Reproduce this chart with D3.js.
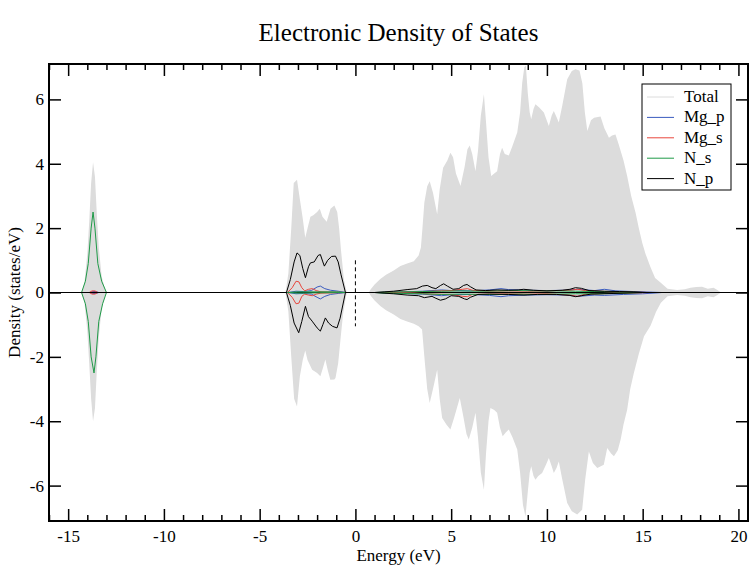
<!DOCTYPE html>
<html>
<head>
<meta charset="utf-8">
<script src="https://cdn.jsdelivr.net/npm/d3@7"></script>
<style>
  body { margin: 0; background: #fff; }
  text { font-family: "Liberation Serif", "DejaVu Serif", serif; }
</style>
</head>
<body>
<div id="chart"></div>
<script>
// total DOS, spin up / spin down  [energy, states/eV]
const totalUp = [
  [-14.3,0],[-14.15,0.3],[-14.0,1.2],[-13.9,2.2],[-13.8,3.4],[-13.7,4.05],[-13.6,3.6],[-13.5,2.4],[-13.4,1.4],[-13.25,0.5],[-13.05,0.05],[-12.9,0],
  [-3.65,0],[-3.5,0.6],[-3.35,2.0],[-3.22,3.4],[-3.05,3.5],[-2.9,2.9],[-2.75,2.3],[-2.62,1.7],[-2.5,2.0],[-2.35,2.35],[-2.2,2.4],[-2.0,2.5],[-1.86,2.6],[-1.72,2.35],[-1.5,2.2],[-1.3,2.6],[-1.1,2.7],[-0.95,2.5],[-0.85,2.0],[-0.75,1.3],[-0.6,0.4],[-0.45,0],
  [0.7,0],[0.8,0.1],[1.0,0.25],[1.3,0.42],[1.6,0.55],[2.0,0.68],[2.35,0.82],[2.7,0.9],[3.05,0.97],[3.3,1.15],[3.42,1.4],[3.5,2.0],[3.6,2.8],[3.75,3.3],[3.88,3.46],[4.05,3.1],[4.27,2.43],[4.4,3.2],[4.58,3.88],[4.8,4.1],[4.96,4.34],[5.1,4.2],[5.25,3.7],[5.49,3.31],[5.7,3.9],[5.85,4.45],[5.97,4.57],[6.1,4.3],[6.27,3.77],[6.4,4.4],[6.55,5.5],[6.71,6.16],[6.82,5.3],[6.95,4.2],[7.09,3.62],[7.25,3.7],[7.4,3.77],[7.55,4.3],[7.66,4.5],[7.8,4.3],[8.01,4.26],[8.2,4.55],[8.45,4.97],[8.6,5.6],[8.71,6.52],[8.82,7.0],[8.9,7.05],[9.0,6.2],[9.1,5.6],[9.18,5.38],[9.3,5.7],[9.4,5.85],[9.6,5.75],[9.84,5.59],[10.1,5.17],[10.25,5.5],[10.36,5.64],[10.5,5.45],[10.62,5.28],[10.8,5.8],[11.06,6.63],[11.3,6.88],[11.49,6.94],[11.7,6.9],[11.85,6.5],[11.98,5.6],[12.11,5.02],[12.3,5.35],[12.46,5.43],[12.8,5.47],[13.0,5.1],[13.24,4.81],[13.4,4.88],[13.58,4.91],[13.75,4.6],[14.0,4.1],[14.19,3.62],[14.4,3.0],[14.63,2.48],[14.8,2.0],[14.98,1.54],[15.15,1.2],[15.4,0.8],[15.65,0.45],[15.93,0.31],[16.3,0.12],[16.8,0.08],[17.2,0.1],[17.5,0.15],[17.8,0.17],[18.1,0.18],[18.4,0.12],[18.7,0.15],[18.9,0.08],[19.1,0]
];
const totalDn = [
  [-14.3,0],[-14.15,-0.3],[-14.0,-1.2],[-13.9,-2.2],[-13.8,-3.3],[-13.7,-4.0],[-13.6,-3.6],[-13.5,-2.4],[-13.4,-1.4],[-13.25,-0.5],[-13.05,-0.05],[-12.9,0],
  [-3.65,0],[-3.5,-0.6],[-3.35,-2.0],[-3.2,-3.3],[-3.05,-3.54],[-2.9,-2.6],[-2.75,-2.1],[-2.62,-1.8],[-2.5,-2.1],[-2.26,-2.4],[-2.0,-2.5],[-1.83,-2.6],[-1.7,-2.35],[-1.57,-2.08],[-1.45,-2.4],[-1.31,-2.71],[-1.1,-2.7],[-1.04,-2.66],[-0.9,-2.2],[-0.78,-1.46],[-0.65,-0.7],[-0.52,-0.22],[-0.45,0],
  [0.7,0],[0.8,-0.1],[1.0,-0.25],[1.3,-0.42],[1.6,-0.55],[2.0,-0.68],[2.35,-0.82],[2.7,-0.9],[3.05,-0.97],[3.3,-1.05],[3.48,-1.15],[3.6,-2.0],[3.75,-3.0],[3.88,-3.43],[4.05,-3.0],[4.27,-2.4],[4.4,-3.3],[4.53,-3.9],[4.75,-4.1],[4.96,-4.26],[5.15,-3.9],[5.45,-3.28],[5.65,-3.9],[5.8,-4.4],[5.92,-4.57],[6.1,-4.2],[6.27,-3.74],[6.4,-4.5],[6.55,-5.6],[6.71,-6.13],[6.82,-5.0],[6.95,-4.0],[7.05,-3.59],[7.25,-3.65],[7.4,-3.74],[7.55,-4.2],[7.69,-4.47],[7.85,-4.35],[8.01,-4.26],[8.2,-4.5],[8.45,-4.88],[8.6,-5.6],[8.75,-6.6],[8.88,-6.96],[9.0,-6.2],[9.1,-5.6],[9.18,-5.4],[9.3,-5.7],[9.4,-5.82],[9.55,-5.7],[9.75,-5.61],[9.95,-5.35],[10.1,-5.14],[10.25,-5.4],[10.36,-5.61],[10.5,-5.45],[10.62,-5.25],[10.8,-5.8],[11.06,-6.54],[11.3,-6.8],[11.58,-6.9],[11.84,-6.75],[12.0,-5.8],[12.19,-4.94],[12.4,-5.3],[12.63,-5.45],[12.97,-5.35],[13.15,-4.83],[13.35,-5.0],[13.5,-5.09],[13.7,-4.9],[13.85,-4.57],[14.0,-4.1],[14.19,-3.64],[14.35,-3.0],[14.54,-2.5],[14.8,-1.9],[15.07,-1.36],[15.41,-1.03],[15.7,-0.6],[15.95,-0.32],[16.3,-0.12],[16.8,-0.08],[17.2,-0.1],[17.5,-0.15],[17.8,-0.17],[18.1,-0.18],[18.4,-0.12],[18.7,-0.15],[18.9,-0.08],[19.1,0]
];

// partial DOS
const mgpUp = [
  [-13.85,0],[-13.7,0.03],[-13.55,0.03],[-13.4,0],
  [-3.5,0],[-3.1,0.04],[-2.7,0.03],[-2.3,0.06],[-2.0,0.17],[-1.83,0.2],[-1.6,0.12],[-1.3,0.07],[-0.9,0.04],[-0.5,0],
  [1.2,0],[2.5,0.02],[3.5,0.04],[4.5,0.08],[5.0,0.06],[6.0,0.05],[7.0,0.08],[7.6,0.12],[8.0,0.09],[9.0,0.07],[10.0,0.06],[11.0,0.07],[11.6,0.1],[12.5,0.06],[13.0,0.1],[13.6,0.05],[14.5,0.03],[15.5,0.01],[16.0,0]
];
const mgpDn = [
  [-13.85,0],[-13.7,-0.03],[-13.55,-0.03],[-13.4,0],
  [-3.5,0],[-3.1,-0.04],[-2.7,-0.03],[-2.3,-0.05],[-2.0,-0.15],[-1.83,-0.2],[-1.6,-0.12],[-1.3,-0.06],[-0.9,-0.03],[-0.5,0],
  [1.2,0],[2.5,-0.03],[3.5,-0.05],[4.5,-0.1],[5.0,-0.07],[6.0,-0.06],[7.0,-0.09],[7.6,-0.13],[8.0,-0.1],[9.0,-0.08],[10.0,-0.07],[11.0,-0.08],[11.6,-0.12],[12.5,-0.08],[13.0,-0.09],[14.0,-0.06],[15.0,-0.04],[15.8,-0.01],[16.0,0]
];
const mgsUp = [
  [-13.9,0],[-13.75,0.05],[-13.6,0.05],[-13.45,0],
  [-3.55,0],[-3.3,0.15],[-3.1,0.35],[-2.95,0.33],[-2.8,0.15],[-2.65,0.05],[-2.45,0.1],[-2.25,0.12],[-2.05,0.06],[-1.8,0.02],[-1.0,0.01],[-0.5,0],
  [1.5,0],[3.0,0.02],[4.0,0.04],[5.0,0.06],[5.6,0.1],[5.85,0.12],[6.1,0.07],[7.0,0.04],[8.0,0.05],[9.0,0.04],[10.0,0.05],[11.2,0.07],[11.6,0.1],[12.0,0.06],[13.0,0.03],[14.5,0.01],[15.5,0]
];
const mgsDn = [
  [-13.9,0],[-13.75,-0.05],[-13.6,-0.05],[-13.45,0],
  [-3.55,0],[-3.3,-0.15],[-3.1,-0.35],[-2.95,-0.33],[-2.8,-0.12],[-2.65,-0.05],[-2.45,-0.08],[-2.25,-0.1],[-2.05,-0.05],[-1.8,-0.02],[-0.5,0],
  [1.5,0],[3.0,-0.02],[4.0,-0.05],[5.0,-0.06],[5.6,-0.12],[5.85,-0.13],[6.1,-0.06],[7.0,-0.05],[8.0,-0.04],[9.0,-0.05],[10.0,-0.04],[11.2,-0.08],[11.6,-0.12],[12.0,-0.05],[13.0,-0.03],[15.5,0]
];
const nsUp = [
  [-14.3,0],[-14.1,0.35],[-13.95,0.9],[-13.8,2.0],[-13.7,2.5],[-13.6,2.0],[-13.45,0.9],[-13.25,0.35],[-13.0,0],
  [-3.55,0],[-3.0,0.02],[-2.0,0.02],[-1.0,0.02],[-0.5,0],
  [1.0,0],[1.5,0.01],[2.5,0.02],[3.5,0.03],[4.5,0.04],[5.5,0.05],[6.5,0.04],[7.5,0.05],[8.5,0.06],[9.5,0.05],[10.5,0.05],[11.5,0.04],[12.5,0.03],[13.5,0.02],[14.5,0.01],[15.0,0]
];
const nsDn = [
  [-14.3,0],[-14.1,-0.35],[-13.95,-0.9],[-13.8,-2.0],[-13.65,-2.5],[-13.55,-2.0],[-13.4,-0.9],[-13.2,-0.35],[-13.0,0],
  [-3.55,0],[-3.0,-0.02],[-2.0,-0.01],[-0.5,0],
  [1.0,0],[1.5,-0.02],[2.5,-0.03],[3.5,-0.04],[4.5,-0.06],[5.5,-0.05],[6.5,-0.06],[7.5,-0.06],[8.5,-0.05],[9.5,-0.06],[10.5,-0.05],[11.5,-0.04],[12.5,-0.04],[13.5,-0.03],[14.5,-0.01],[15.0,0]
];
const npUp = [
  [-16,0],[-3.6,0],[-3.4,0.4],[-3.2,0.95],[-3.05,1.23],[-2.9,1.15],[-2.75,0.75],[-2.61,0.46],[-2.45,0.8],[-2.35,0.92],[-2.15,0.95],[-1.95,1.15],[-1.83,1.18],[-1.7,0.95],[-1.62,0.82],[-1.45,1.0],[-1.25,1.12],[-1.04,1.13],[-0.9,0.95],[-0.75,0.55],[-0.52,0],
  [1.0,0],[1.5,0.02],[2.0,0.04],[2.7,0.09],[3.2,0.12],[3.5,0.2],[3.75,0.22],[4.0,0.15],[4.2,0.12],[4.45,0.22],[4.61,0.27],[4.8,0.2],[5.1,0.1],[5.4,0.12],[5.65,0.22],[5.83,0.25],[6.0,0.18],[6.3,0.08],[6.8,0.06],[7.4,0.08],[8.0,0.07],[8.5,0.08],[8.79,0.1],[9.3,0.07],[10.0,0.05],[10.8,0.07],[11.2,0.1],[11.49,0.15],[11.8,0.13],[12.2,0.06],[13.0,0.04],[13.8,0.03],[14.5,0.02],[15.2,0],[20.5,0]
];
const npDn = [
  [-16,0],[-3.6,0],[-3.4,-0.4],[-3.2,-0.95],[-2.96,-1.25],[-2.8,-0.9],[-2.61,-0.43],[-2.45,-0.75],[-2.26,-0.89],[-2.0,-1.1],[-1.83,-1.2],[-1.7,-1.0],[-1.57,-0.79],[-1.4,-0.95],[-1.2,-1.05],[-0.96,-1.1],[-0.8,-0.8],[-0.52,0],
  [1.0,0],[2.0,-0.04],[2.7,-0.08],[3.3,-0.1],[3.6,-0.16],[4.0,-0.12],[4.2,-0.18],[4.44,-0.24],[4.7,-0.2],[5.0,-0.1],[5.4,-0.12],[5.7,-0.2],[5.83,-0.22],[6.0,-0.15],[6.4,-0.06],[7.0,-0.05],[8.0,-0.06],[8.8,-0.08],[9.5,-0.06],[10.5,-0.06],[11.2,-0.09],[11.5,-0.13],[11.8,-0.1],[12.3,-0.05],[13.5,-0.03],[15.0,0],[20.5,0]
];

const seriesNames = ["Total", "Mg_p", "Mg_s", "N_s", "N_p"];
const seriesColors = ["#dcdcdc", "#3a5bbf", "#e8463c", "#1f9a48", "#000000"];
const xTicks = [-15, -10, -5, 0, 5, 10, 15, 20];
const yTicks = [-6, -4, -2, 0, 2, 4, 6];

const width = 750, height = 568;
const margin = { top: 64, right: 2, bottom: 47, left: 49 };
const serif = "'Liberation Serif', 'DejaVu Serif', serif";

const svg = d3.select("#chart").append("svg")
    .attr("width", width)
    .attr("height", height);

const x = d3.scaleLinear().domain([-16, 20.5]).range([margin.left, width - margin.right]);
const y = d3.scaleLinear().domain([-7.1, 7.1]).range([height - margin.bottom, margin.top]);

svg.append("clipPath").attr("id", "clip")
  .append("rect")
    .attr("x", margin.left).attr("y", margin.top)
    .attr("width", x.range()[1] - margin.left)
    .attr("height", y.range()[0] - margin.top);

const plot = svg.append("g").attr("clip-path", "url(#clip)");

// total DOS as filled areas
const area = d3.area().x(d => x(d[0])).y0(y(0)).y1(d => y(d[1]));
[totalUp, totalDn].forEach(s => {
  plot.append("path").datum(s).attr("d", area).attr("fill", seriesColors[0]);
});

// zero line
plot.append("line")
    .attr("x1", x.range()[0]).attr("x2", x.range()[1])
    .attr("y1", y(0)).attr("y2", y(0))
    .attr("stroke", "#000").attr("stroke-width", 1);

// fermi level marker
plot.append("line")
    .attr("x1", x(0)).attr("x2", x(0))
    .attr("y1", y(1.0)).attr("y2", y(-1.05))
    .attr("stroke", "#000").attr("stroke-dasharray", "4,3");

// partials
const line = d3.line().x(d => x(d[0])).y(d => y(d[1]));
const partials = [[mgpUp, mgpDn], [mgsUp, mgsDn], [nsUp, nsDn], [npUp, npDn]];
partials.forEach((pair, i) => {
  pair.forEach(s => {
    plot.append("path").datum(s).attr("d", line)
        .attr("fill", "none")
        .attr("stroke", seriesColors[i + 1])
        .attr("stroke-width", 1);
  });
});

// axes: ticks on all four sides, pointing inwards
const fmt = d => String(d); // plain hyphen minus like the original
const xMinor = d3.range(-16, 21, 1).filter(v => !xTicks.includes(v));
const gx = svg.append("g").attr("transform", `translate(0,${y.range()[0]})`)
    .call(d3.axisBottom(x).tickValues(xTicks).tickSize(-12).tickPadding(9).tickFormat(fmt));
gx.attr("font-family", serif);
gx.selectAll("text").attr("font-size", 17).attr("fill", "#000").style("font-family", serif);
svg.append("g").attr("transform", `translate(0,${y.range()[0]})`)
    .call(d3.axisBottom(x).tickValues(xMinor).tickSize(-6).tickFormat(""));
svg.append("g").attr("transform", `translate(0,${margin.top})`)
    .call(d3.axisTop(x).tickValues(xTicks).tickSize(-12).tickFormat(""));
svg.append("g").attr("transform", `translate(0,${margin.top})`)
    .call(d3.axisTop(x).tickValues(xMinor).tickSize(-6).tickFormat(""));

const gy = svg.append("g").attr("transform", `translate(${margin.left},0)`)
    .call(d3.axisLeft(y).tickValues(yTicks).tickSize(-12).tickPadding(5).tickFormat(fmt));
gy.attr("font-family", serif);
gy.selectAll("text").attr("font-size", 17).attr("fill", "#000").style("font-family", serif);
svg.append("g").attr("transform", `translate(${x.range()[1]},0)`)
    .call(d3.axisRight(y).tickValues(yTicks).tickSize(-12).tickFormat(""));

svg.selectAll(".domain").remove();
svg.selectAll(".tick line").attr("stroke", "#000").attr("stroke-width", 1.5);

// frame
svg.append("rect")
    .attr("x", margin.left).attr("y", margin.top)
    .attr("width", x.range()[1] - margin.left)
    .attr("height", y.range()[0] - margin.top)
    .attr("fill", "none").attr("stroke", "#000").attr("stroke-width", 2);

// titles
svg.append("text")
    .attr("x", (x.range()[0] + x.range()[1]) / 2).attr("y", 41)
    .attr("text-anchor", "middle").attr("font-size", 25)
    .text("Electronic Density of States");
svg.append("text")
    .attr("x", (x.range()[0] + x.range()[1]) / 2).attr("y", 561)
    .attr("text-anchor", "middle").attr("font-size", 17)
    .text("Energy (eV)");
svg.append("text")
    .attr("transform", `translate(20,${y(0)}) rotate(-90)`)
    .attr("text-anchor", "middle").attr("font-size", 17)
    .text("Density (states/eV)");

// legend
const legend = svg.append("g");
legend.append("rect")
    .attr("x", 642).attr("y", 84).attr("width", 89).attr("height", 106)
    .attr("fill", "#fff").attr("stroke", "#000").attr("stroke-width", 1);
seriesNames.forEach((name, i) => {
  const ly = 97 + i * 20.4;
  legend.append("line")
      .attr("x1", 647).attr("x2", 674).attr("y1", ly).attr("y2", ly)
      .attr("stroke", seriesColors[i]).attr("stroke-width", 1);
  legend.append("text")
      .attr("x", 684).attr("y", ly + 5).attr("font-size", 17)
      .text(name);
});
</script>
</body>
</html>
